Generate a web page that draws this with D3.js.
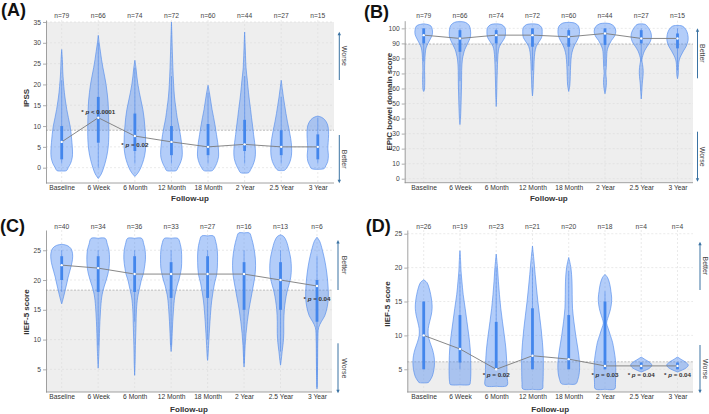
<!DOCTYPE html>
<html><head><meta charset="utf-8">
<script src="https://cdn.jsdelivr.net/npm/d3@7"></script>
<style>body{margin:0;background:#fff} text{font-family:"Liberation Sans",Arial,Helvetica,sans-serif}</style>
</head><body><svg id="c" width="709" height="414"></svg>
<script>
const categories = ["Baseline","6 Week","6 Month","12 Month","18 Month","2 Year","2.5 Year","3 Year"];

// ---------- Panel A : IPSS ----------
const nA = [79,66,74,72,60,44,27,15];
const medianA = [6.2,12,7.6,6.2,5,5.6,5,5];
const q1A = [2,6,4,3,3,4,3,2];
const q3A = [10,17,13,10,10.5,11.5,9,8];
const whiskLoA = [1,0,1,1,1,1,1,1];
const whiskHiA = [21,30,24,22,18,22,17,12];
const ticksA = [0,5,10,15,20,25,30,35];
const thresholdA = 9;
const violinA = [
  [[28.4,0],[26,0.06],[23,0.1],[21,0.15],[18,0.25],[16,0.35],[14,0.47],[12,0.62],[10,0.78],[8,0.88],[6,0.95],[4,1.0],[2.5,0.98],[1,0.82],[0,0.6],[-0.7,0.45],[-0.8,0]],
  [[31.8,0],[30,0.08],[28,0.19],[26,0.3],[24,0.43],[22,0.58],[20,0.72],[18,0.82],[16,0.9],[14,0.94],[12,0.96],[9,0.98],[6,0.95],[4,0.87],[2,0.72],[0,0.5],[-1.5,0.28],[-2.6,0]],
  [[25.8,0],[24,0.1],[22,0.18],[20,0.28],[18,0.42],[16,0.58],[14,0.74],[12,0.85],[10,0.92],[8,0.98],[6,1.0],[4,0.97],[2,0.82],[0,0.55],[-1.2,0.3],[-2.1,0]],
  [[35,0],[32,0.04],[28,0.08],[24,0.13],[20,0.2],[17,0.28],[14.5,0.4],[12,0.53],[10,0.68],[8,0.82],[6,0.93],[4,1.0],[2.5,0.98],[1,0.8],[0,0.6],[-0.7,0.45],[-0.8,0]],
  [[19.8,0],[18,0.13],[16,0.25],[14,0.37],[12,0.52],[10,0.66],[8,0.78],[6,0.9],[4,0.97],[2.6,0.97],[1,0.8],[0,0.6],[-0.7,0.4],[-0.8,0]],
  [[32.6,0],[30,0.04],[27,0.08],[24,0.13],[21,0.25],[18,0.36],[16,0.45],[14,0.55],[12,0.64],[10,0.74],[8,0.83],[6,0.93],[4,1.0],[2.2,0.96],[0.5,0.75],[-0.5,0.55],[-1.2,0.38],[-1.3,0]],
  [[21,0],[19,0.1],[17,0.2],[15,0.32],[13,0.44],[11,0.58],[9,0.74],[7,0.88],[5,0.96],[3,0.95],[1.5,0.82],[0.3,0.6],[-0.6,0.32],[-0.7,0]],
  [[12.4,0],[12.1,0.35],[11.5,0.65],[10.5,0.88],[9.5,0.97],[8,1.0],[6,0.96],[4.5,0.93],[3,0.98],[1.5,0.92],[0.5,0.75],[-0.2,0.6],[-0.4,0]]
];
const pAnnotA = [{cat:"6 Week", op:"<", p:"0.0001", v:13.5},{cat:"6 Month", op:"=", p:"0.02", v:5.6}];

// ---------- Panel B : EPIC bowel ----------
const nB = [79,66,74,72,60,44,27,15];
const medianB = [95.5,93.3,95.5,95.5,94.4,96.6,93.3,93.3];
const q1B = [90,84.4,90,87.8,87.8,89,90,86.7];
const q3B = [100,98.8,98.8,100,98.8,100,98.8,96.6];
const whiskLoB = [78,65,78,72,75,75,78,72];
const whiskHiB = [100,100,100,100,100,100,100,100];
const ticksB = [0,10,20,30,40,50,60,70,80,90,100];
const thresholdB = 89.5;
const violinB = [
  [[103,0],[102.5,0.4],[101.5,0.68],[99,0.8],[96,0.8],[93,0.62],[90,0.4],[87,0.22],[83,0.14],[78,0.1],[72,0.08],[66,0.1],[62,0.09],[59,0.06],[58,0]],
  [[104.5,0],[104,0.5],[102,0.85],[99,0.97],[95,0.98],[92,0.85],[89,0.65],[86,0.45],[83,0.33],[79,0.22],[72,0.16],[63,0.15],[55,0.12],[47,0.09],[40,0.05],[36,0]],
  [[103,0],[102.5,0.5],[100.5,0.8],[97,0.86],[94,0.8],[91,0.55],[88,0.3],[85,0.2],[80,0.14],[72,0.1],[65,0.07],[55,0.04],[48,0]],
  [[103,0],[102.5,0.55],[100.5,0.85],[97,0.9],[94,0.85],[91,0.6],[88,0.35],[84,0.22],[78,0.15],[72,0.12],[65,0.08],[60,0.06],[55,0]],
  [[104,0],[103.5,0.55],[101.5,0.9],[98,1.0],[95,0.95],[92,0.78],[89,0.55],[86,0.38],[82,0.25],[76,0.18],[68,0.14],[62,0.1],[58,0]],
  [[103.5,0],[103,0.5],[101,0.88],[98,1.0],[95,0.9],[92,0.6],[89,0.38],[86,0.22],[80,0.15],[74,0.12],[70,0.08],[66,0.13],[62,0.12],[59,0.07],[56.5,0]],
  [[103,0],[102.5,0.4],[100,0.7],[97,0.9],[94,0.94],[91,0.82],[88,0.55],[85,0.3],[82,0.15],[79,0.06],[76,0.12],[72,0.18],[68,0.16],[63,0.09],[58,0.05],[53,0]],
  [[102,0],[101.5,0.45],[99.5,0.75],[96,0.95],[92,0.98],[88,0.8],[85,0.55],[82,0.33],[79,0.16],[76,0.1],[72,0.08],[69,0.06],[66.5,0]]
];
const pAnnotB = [];

// ---------- Panel C : IIEF-5 ----------
const nC = [40,34,36,33,27,16,13,6];
const medianC = [22.5,22,21,21,21,21,20,19];
const q1C = [20,18,18,17,17,15,15,13];
const q3C = [24,24,24,23,24,23,23,20];
const whiskLoC = [18,9,13,9,10,6,8,2];
const whiskHiC = [25,25,25,25,25,25,25,24];
const ticksC = [5,10,15,20,25];
const thresholdC = 18.3;
const violinC = [
  [[26,0],[25.8,0.5],[25.3,0.85],[24.5,1.0],[23.5,1.0],[22.5,0.9],[21.5,0.75],[20.5,0.6],[19.5,0.48],[18.5,0.35],[17.5,0.22],[16.5,0.08],[16,0]],
  [[27,0],[27,0.65],[26,0.85],[25,1.0],[23.5,1.05],[22,1.0],[21,0.9],[20,0.75],[19,0.57],[18,0.42],[17,0.32],[15,0.22],[13,0.16],[11,0.12],[8,0.07],[5.2,0]],
  [[27,0],[27,0.65],[26,0.85],[25,0.97],[23.5,1.0],[22,0.9],[21,0.8],[20,0.62],[19,0.5],[18,0.38],[17,0.27],[15,0.17],[12,0.12],[9,0.07],[6,0.04],[4,0]],
  [[27,0],[27,0.62],[26,0.85],[25,0.95],[23.5,0.98],[22,0.95],[21,0.85],[20,0.72],[19,0.55],[18,0.42],[17,0.32],[15,0.22],[13,0.15],[11,0.1],[9,0.05],[8,0]],
  [[27.4,0],[27.4,0.55],[26.5,0.75],[25,0.9],[23,0.92],[21,0.85],[19.5,0.65],[18,0.5],[16.5,0.38],[15,0.3],[13,0.22],[11,0.15],[9,0.09],[7,0.03],[6.5,0]],
  [[27.9,0],[27.9,0.5],[27,0.7],[25.5,0.9],[23.5,1.05],[21.5,1.05],[20,0.95],[18.5,0.8],[17,0.65],[15,0.45],[13,0.3],[11,0.18],[9,0.1],[7,0.05],[5.4,0]],
  [[27.6,0],[27.3,0.3],[26.5,0.55],[25,0.78],[23.5,0.95],[22,1.0],[20.5,0.95],[19,0.75],[18,0.6],[16.5,0.45],[15,0.35],[13,0.3],[11,0.3],[9.5,0.25],[8,0.15],[6.5,0.06],[5.7,0]],
  [[27.2,0],[26.5,0.25],[25,0.5],[23,0.75],[21,0.92],[19,1.02],[17,1.05],[15.5,0.95],[14,0.72],[13,0.4],[12,0.15],[10,0.08],[7,0.06],[4,0.04],[1.7,0]]
];
const pAnnotC = [{cat:"3 Year", op:"=", p:"0.04", v:16.9}];

// ---------- Panel D : IIEF-5 ----------
const nD = [26,19,23,21,20,18,4,4];
const medianD = [10,8,5,7,6.5,5.5,5.5,5.5];
const q1D = [5,6,5,5,5,5,5,5];
const q3D = [15,13,12,14,13,15,6,6];
const whiskLoD = [5,5,5,5,5,5,5,5];
const whiskHiD = [15,19,20,20,19.5,16.5,6,6];
const ticksD = [5,10,15,20,25];
const thresholdD = 6.1;
const violinD = [
  [[18.2,0],[17.8,0.3],[17,0.5],[16,0.65],[15,0.75],[14,0.78],[13,0.7],[12,0.55],[11,0.42],[10,0.42],[9,0.58],[8,0.8],[7,0.95],[6,1.0],[5,0.95],[4,0.8],[3.4,0.6],[3.05,0.42],[3,0]],
  [[22.5,0],[21,0.06],[19.5,0.1],[18,0.18],[16,0.3],[14,0.48],[12,0.65],[10,0.82],[8,0.95],[6,1.0],[4,1.0],[3,0.95],[2.75,0.9],[2.7,0]],
  [[22,0],[20,0.12],[18,0.2],[16,0.3],[14,0.42],[12,0.58],[10,0.75],[8,0.9],[6,0.98],[4,1.0],[2.6,1.0],[2.5,0]],
  [[23.2,0],[21,0.14],[19,0.25],[17,0.37],[15,0.5],[13,0.65],[11,0.8],[9,0.92],[7,1.0],[5,1.0],[3,0.97],[2.1,0.9],[2.05,0]],
  [[21.5,0],[20,0.2],[18,0.3],[16,0.32],[14,0.35],[12,0.48],[10,0.65],[8,0.85],[6,1.0],[4.5,0.98],[3.5,0.85],[2.85,0.66],[2.8,0]],
  [[19,0],[18.5,0.25],[17.5,0.45],[16.5,0.55],[15.5,0.62],[14.5,0.58],[13.5,0.45],[12.5,0.25],[11.8,0.15],[11,0.3],[10,0.5],[9,0.7],[8,0.82],[7,0.92],[6,0.98],[4.5,1.0],[3,0.97],[2.1,0.9],[2.05,0]],
  [[6.8,0],[6.4,0.4],[6,0.8],[5.6,0.98],[5.2,0.8],[4.9,0.45],[4.6,0]],
  [[6.8,0],[6.4,0.4],[6,0.8],[5.6,1.0],[5.2,0.8],[4.9,0.45],[4.6,0]]
];
const pAnnotD = [{cat:"6 Month", op:"=", p:"0.02", v:4.2},{cat:"2 Year", op:"=", p:"0.03", v:4.2},{cat:"2.5 Year", op:"=", p:"0.04", v:4.2},{cat:"3 Year", op:"=", p:"0.04", v:4.2}];

// ---------- layout ----------
const panels = [
  {letter:"(A)", lx:1, ly:16, ytitle:"IPSS", ytx:25.7, yty:98,
   left:46, right:334, top:20, bottom:183, domain:[-3.68,35.48], cx0:61.7, cx1:317.8, nY:15.7,
   n:nA, med:medianA, q1:q1A, q3:q3A, wlo:whiskLoA, whi:whiskHiA, ticks:ticksA, thr:thresholdA, grayAbove:true, grayTop:35,
   vio:violinA, ann:pAnnotA, xtY:198.3, arrowX:339.3, textX:344,
   arrows:[{y1:80,y2:31.7,label:"Worse"},{y1:135,y2:183.3,label:"Better"}]},
  {letter:"(B)", lx:364, ly:17.5, ytitle:"EPIC bowel domain score", ytx:389, yty:101.7,
   left:404.7, right:693, top:20.7, bottom:182.7, domain:[-2.66,105.1], cx0:423.7, cx1:677.5, nY:15.3,
   n:nB, med:medianB, q1:q1B, q3:q3B, wlo:whiskLoB, whi:whiskHiB, ticks:ticksB, thr:thresholdB, grayAbove:false,
   vio:violinB, ann:pAnnotB, xtY:198.3, arrowX:697.5, textX:702.5,
   arrows:[{y1:78.3,y2:28.3,label:"Better"},{y1:131.7,y2:181.7,label:"Worse"}]},
  {letter:"(C)", lx:0, ly:231.5, ytitle:"IIEF-5 score", ytx:25.7, yty:312,
   left:46, right:332, top:230, bottom:392, domain:[1.2,28.4], cx0:61.7, cx1:317, nY:227,
   n:nC, med:medianC, q1:q1C, q3:q3C, wlo:whiskLoC, whi:whiskHiC, ticks:ticksC, thr:thresholdC, grayAbove:false,
   vio:violinC, ann:pAnnotC, xtY:408.7, arrowX:338, textX:344,
   arrows:[{y1:290,y2:240,label:"Better"},{y1:343.3,y2:393.3,label:"Worse"}]},
  {letter:"(D)", lx:365.7, ly:231.5, ytitle:"IIEF-5 score", ytx:387.3, yty:304,
   left:407.3, right:693, top:230, bottom:392, domain:[1.65,25.55], cx0:423.7, cx1:677.5, nY:227,
   n:nD, med:medianD, q1:q1D, q3:q3D, wlo:whiskLoD, whi:whiskHiD, ticks:ticksD, thr:thresholdD, grayAbove:false,
   vio:violinD, ann:pAnnotD, xtY:408.7, arrowX:700, textX:705,
   arrows:[{y1:290,y2:241.7,label:"Better"},{y1:345,y2:393.3,label:"Worse"}]}
];

const svg = d3.select("#c");
const violinFill = "rgba(74,137,240,0.42)";
const violinStroke = "rgba(80,138,236,0.8)";
const arrowColor = "#3b73a3";

function drawPanel(p) {
  const y = d3.scaleLinear().domain(p.domain).range([p.bottom, p.top]);
  const x = d3.scalePoint().domain(categories).range([p.cx0, p.cx1]);
  const w = d3.scaleLinear().domain([0,1]).range([0, 10.8]);
  const g = svg.append("g");

  const gTop = p.grayAbove ? y(p.grayTop) : y(p.thr);
  const gBot = p.grayAbove ? y(p.thr) : p.bottom;
  g.append("rect").attr("x", p.left).attr("y", gTop).attr("width", p.right - p.left)
    .attr("height", gBot - gTop).attr("fill", "#eeeeee");

  g.selectAll(".hg").data(p.ticks).enter().append("line")
    .attr("x1", p.left).attr("x2", p.right).attr("y1", d => y(d)).attr("y2", d => y(d))
    .attr("stroke", "#dcdcdc").attr("stroke-width", 0.6).attr("stroke-dasharray", "2,2");
  g.selectAll(".vg").data(categories).enter().append("line")
    .attr("x1", d => x(d)).attr("x2", d => x(d)).attr("y1", p.top).attr("y2", p.bottom)
    .attr("stroke", "#dcdcdc").attr("stroke-width", 0.6).attr("stroke-dasharray", "2,2");

  g.append("line").attr("x1", p.left).attr("x2", p.right).attr("y1", y(p.thr)).attr("y2", y(p.thr))
    .attr("stroke", "#b5b5b5").attr("stroke-width", 0.9).attr("stroke-dasharray", "2,1.5");

  const area = d3.area().curve(d3.curveCatmullRom.alpha(0.5)).y(d => y(d[0]));
  categories.forEach((c, i) => {
    const cx = x(c);
    g.append("path").datum(p.vio[i])
      .attr("d", area.x0(d => cx - w(d[1])).x1(d => cx + w(d[1])))
      .attr("fill", violinFill).attr("stroke", violinStroke).attr("stroke-width", 0.8);
  });

  categories.forEach((c, i) => {
    const cx = x(c);
    g.append("line").attr("x1", cx).attr("x2", cx).attr("y1", y(p.wlo[i])).attr("y2", y(p.whi[i]))
      .attr("stroke", "rgba(60,125,235,0.55)").attr("stroke-width", 0.9);
    g.append("line").attr("x1", cx).attr("x2", cx).attr("y1", y(p.q1[i])).attr("y2", y(p.q3[i]))
      .attr("stroke", "#4386ec").attr("stroke-width", 2.8);
  });

  const line = d3.line().x((d, i) => x(categories[i])).y(d => y(d));
  g.append("path").datum(p.med).attr("d", line).attr("fill", "none")
    .attr("stroke", "#7a7a7a").attr("stroke-width", 0.9);
  g.selectAll(".md").data(p.med).enter().append("circle")
    .attr("cx", (d, i) => x(categories[i])).attr("cy", d => y(d)).attr("r", 1.2)
    .attr("fill", "#ffffff");

  const ya = g.append("g").attr("transform", `translate(${p.left},0)`)
    .call(d3.axisLeft(y).tickValues(p.ticks).tickSize(3).tickSizeOuter(0).tickPadding(2));
  ya.select(".domain").attr("stroke", "#8a8a8a").attr("stroke-width", 0.8);
  ya.selectAll(".tick line").attr("stroke", "#8a8a8a").attr("stroke-width", 0.7);
  ya.selectAll("text").attr("font-size", 6.7).attr("fill", "#444")
    .attr("font-family", "Liberation Sans, Arial, sans-serif");

  g.append("line").attr("x1", p.left).attr("x2", p.right).attr("y1", p.bottom).attr("y2", p.bottom)
    .attr("stroke", "#8a8a8a").attr("stroke-width", 0.8);
  const xa = g.append("g").attr("transform", `translate(0,${p.bottom})`)
    .call(d3.axisBottom(x).tickSize(0).tickPadding(2.2));
  xa.select(".domain").remove();
  xa.selectAll("text").attr("font-size", 6.7).attr("fill", "#333")
    .attr("font-family", "Liberation Sans, Arial, sans-serif");

  g.selectAll(".nl").data(p.n).enter().append("text")
    .attr("x", (d, i) => x(categories[i])).attr("y", p.nY).attr("dy", "0.35em")
    .attr("text-anchor", "middle").attr("font-size", 6.7).attr("fill", "#444")
    .text(d => "n=" + d);

  p.ann.forEach(a => {
    const t = g.append("text").attr("x", x(a.cat)).attr("y", y(a.v)).attr("dy", "0.35em")
      .attr("text-anchor", "middle").attr("font-size", 6.2).attr("fill", "#333").attr("font-weight", "bold");
    t.append("tspan").text("* ");
    t.append("tspan").attr("font-style", "italic").text("p");
    t.append("tspan").text(" " + a.op + " " + a.p);
  });

  g.append("text").attr("x", (p.left + p.right) / 2).attr("y", p.xtY).attr("dy", "0.35em")
    .attr("text-anchor", "middle").attr("font-size", 8).attr("font-weight", "bold").attr("fill", "#333")
    .text("Follow-up");
  g.append("text").attr("transform", `translate(${p.ytx},${p.yty}) rotate(-90)`).attr("dy", "0.35em")
    .attr("text-anchor", "middle").attr("font-size", 8).attr("font-weight", "bold").attr("fill", "#333")
    .text(p.ytitle);
  g.append("text").attr("x", p.lx).attr("y", p.ly).attr("font-size", 18).attr("font-weight", "bold")
    .attr("fill", "#111").text(p.letter);

  p.arrows.forEach(a => {
    const dir = Math.sign(a.y2 - a.y1);
    g.append("line").attr("x1", p.arrowX).attr("x2", p.arrowX).attr("y1", a.y1).attr("y2", a.y2 - dir * 2)
      .attr("stroke", arrowColor).attr("stroke-width", 1);
    g.append("path").attr("d", `M${p.arrowX - 1.7},${a.y2 - dir * 3.5}L${p.arrowX + 1.7},${a.y2 - dir * 3.5}L${p.arrowX},${a.y2}Z`)
      .attr("fill", arrowColor);
    g.append("text").attr("transform", `translate(${p.textX},${(a.y1 + a.y2) / 2}) rotate(90)`)
      .attr("dy", "0.35em").attr("text-anchor", "middle").attr("font-size", 7).attr("fill", "#444")
      .text(a.label);
  });
}

panels.forEach(drawPanel);
</script>
</body></html>
